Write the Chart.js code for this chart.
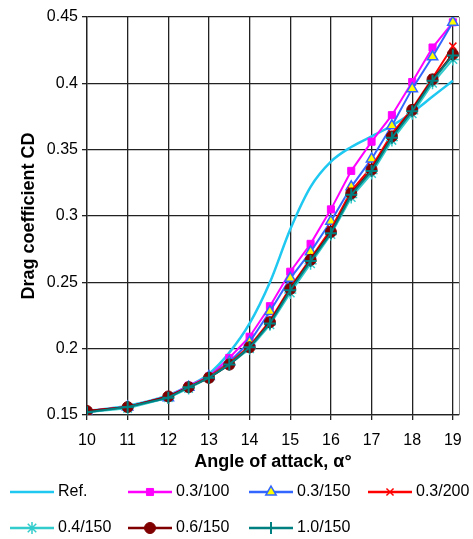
<!DOCTYPE html>
<html>
<head>
<meta charset="utf-8">
<script src="https://cdn.jsdelivr.net/npm/chart.js@4/dist/chart.umd.min.js"></script>
<style>
  body { margin: 0; background: #fff; }
  canvas { display: block; }
</style>
</head>
<body>
<canvas id="myChart" width="473" height="539"></canvas>
<script>
// angle of attack (deg)
const angles = [10, 11, 12, 12.5, 13, 13.5, 14, 14.5, 15, 15.5, 16, 16.5, 17, 17.5, 18, 18.5, 19];
const xTicks = [10, 11, 12, 13, 14, 15, 16, 17, 18, 19];

// drag coefficient CD per case
const ref    = [0.153, 0.157, 0.165, 0.172, 0.181, 0.197, 0.219, 0.250, 0.290, 0.322, 0.341, 0.352, 0.360, 0.368, 0.378, 0.390, 0.402];
const c03_100 = [0.153, 0.156, 0.164, 0.172, 0.179, 0.193, 0.209, 0.232, 0.258, 0.279, 0.305, 0.334, 0.356, 0.376, 0.401, 0.427, 0.446];
const c03_150 = [0.152, 0.156, 0.163, 0.171, 0.179, 0.190, 0.205, 0.228, 0.253, 0.273, 0.296, 0.322, 0.343, 0.368, 0.396, 0.420, 0.446];
const c03_200 = [0.153, 0.156, 0.164, 0.171, 0.179, 0.189, 0.202, 0.221, 0.246, 0.268, 0.290, 0.319, 0.337, 0.362, 0.381, 0.404, 0.428];
const c04_150 = [0.152, 0.155, 0.163, 0.170, 0.178, 0.188, 0.200, 0.218, 0.242, 0.264, 0.286, 0.314, 0.332, 0.357, 0.377, 0.400, 0.418];
const c06_150 = [0.153, 0.156, 0.164, 0.171, 0.178, 0.188, 0.201, 0.220, 0.245, 0.267, 0.288, 0.317, 0.335, 0.360, 0.380, 0.403, 0.422];
const c10_150 = [0.152, 0.156, 0.163, 0.171, 0.178, 0.188, 0.201, 0.219, 0.244, 0.266, 0.287, 0.316, 0.334, 0.359, 0.379, 0.402, 0.421];

const seriesNames = ['Ref.', '0.3/100', '0.3/150', '0.3/200', '0.4/150', '0.6/150', '1.0/150'];
const seriesData = [ref, c03_100, c03_150, c03_200, c04_150, c06_150, c10_150];

Chart.defaults.font.family = "'Liberation Sans', Arial, sans-serif";
Chart.defaults.color = '#000';

const styles = [
    { borderColor: '#1ec8f0', backgroundColor: '#1ec8f0', pointStyle: false, borderWidth: 2.5, tension: 0.4, cubicInterpolationMode: 'monotone' },
    { borderColor: '#ff00ff', backgroundColor: '#ff00ff', pointStyle: 'rect', pointRadius: 5, pointBorderWidth: 1 },
    { borderColor: '#3366ff', backgroundColor: '#ffff00', pointStyle: 'triangle', pointRadius: 6, pointBorderWidth: 1.5 },
    { borderColor: '#ff0000', backgroundColor: '#ff0000', pointStyle: 'crossRot', pointRadius: 5, pointBorderWidth: 1.5 },
    { borderColor: '#33cccc', backgroundColor: '#33cccc', pointStyle: 'star', pointRadius: 6, pointBorderWidth: 1.5 },
    { borderColor: '#800000', backgroundColor: '#800000', pointStyle: 'circle', pointRadius: 5.5, pointBorderWidth: 1 },
    { borderColor: '#008080', backgroundColor: '#008080', pointStyle: 'cross', pointRadius: 6, pointBorderWidth: 2 }
];

const datasets = seriesNames.map((name, i) => Object.assign({
    label: name,
    data: angles.map((a, j) => ({ x: a, y: seriesData[i][j] })),
    borderWidth: 2,
    tension: 0,
    order: seriesNames.length - i
}, styles[i]));

// legend drawn in a fixed grid like the original
const gridLegend = {
    id: 'gridLegend',
    beforeDatasetsDraw(chart) {
        const { ctx, chartArea } = chart;
        ctx.save();
        ctx.strokeStyle = '#888';
        ctx.lineWidth = 1;
        ctx.beginPath();
        ctx.moveTo(chartArea.right + 0.5, chartArea.top);
        ctx.lineTo(chartArea.right + 0.5, chartArea.bottom);
        ctx.stroke();
        ctx.restore();
    },
    afterDraw(chart) {
        const ctx = chart.ctx;
        const cols = [10, 128, 249, 368];
        const rows = [492, 528];
        ctx.save();
        ctx.font = "16px 'Liberation Sans', Arial, sans-serif";
        ctx.textBaseline = 'middle';
        ctx.fillStyle = '#000';
        chart.data.datasets.forEach((ds, i) => {
            const x = cols[i % 4];
            const y = rows[Math.floor(i / 4)];
            ctx.strokeStyle = ds.borderColor;
            ctx.lineWidth = 2.5;
            ctx.beginPath();
            ctx.moveTo(x, y);
            ctx.lineTo(x + 44, y);
            ctx.stroke();
            if (ds.pointStyle) {
                ctx.fillStyle = ds.backgroundColor;
                ctx.strokeStyle = ds.borderColor;
                ctx.lineWidth = ds.pointBorderWidth;
                Chart.helpers.drawPoint(ctx, {
                    pointStyle: ds.pointStyle,
                    radius: ds.pointRadius,
                    rotation: 0,
                    borderWidth: ds.pointBorderWidth
                }, x + 22, y);
            }
            ctx.fillStyle = '#000';
            ctx.fillText(ds.label, x + 48, y);
        });
        ctx.restore();
    }
};

new Chart(document.getElementById('myChart'), {
    type: 'line',
    data: { datasets: datasets },
    plugins: [gridLegend],
    options: {
        responsive: false,
        animation: false,
        layout: { padding: { left: 0, top: 17, right: 14, bottom: 64 } },
        plugins: {
            legend: { display: false },
            tooltip: { enabled: false }
        },
        scales: {
            x: {
                type: 'linear',
                min: 10,
                max: 19.15,
                afterBuildTicks: axis => {
                    axis.ticks = xTicks.map(v => ({ value: v }));
                },
                afterFit: scale => { scale.height = 60; },
                ticks: { font: { size: 16 }, padding: 11, maxRotation: 0 },
                grid: { color: '#222', lineWidth: 1.3, tickLength: 5 },
                border: { color: '#222', width: 1.3 },
                title: {
                    display: true,
                    text: 'Angle of attack, α°',
                    font: { size: 18, weight: 'bold' },
                    padding: { top: 0, bottom: 2 }
                }
            },
            y: {
                min: 0.15,
                max: 0.45,
                afterFit: scale => { scale.width = 87; },
                ticks: {
                    stepSize: 0.05,
                    font: { size: 16 },
                    padding: 4,
                    callback: v => String(+v.toFixed(2))
                },
                grid: { color: '#222', lineWidth: 1.3, tickLength: 5 },
                border: { color: '#222', width: 1.3 },
                title: {
                    display: true,
                    text: 'Drag coefficient CD',
                    font: { size: 18, weight: 'bold' },
                    padding: { top: 18, bottom: 0 }
                }
            }
        }
    }
});
</script>
</body>
</html>
